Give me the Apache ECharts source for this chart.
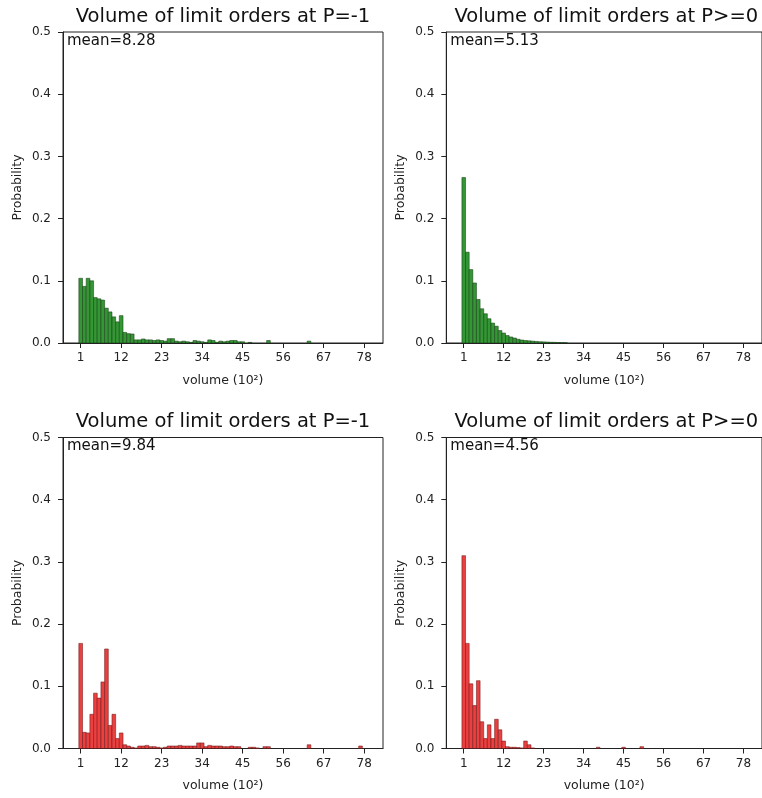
<!DOCTYPE html>
<html>
<head>
<meta charset="utf-8">
<script src="https://cdn.jsdelivr.net/npm/echarts@6/dist/echarts.min.js"></script>
<style>html,body{margin:0;padding:0;background:#fff;}#chart{width:762px;height:798px;}</style>
</head>
<body>
<div id="chart"></div>
<script>
// Tick labels on the volume axis (units of 10^2)
const volumeTicks = [1, 12, 23, 34, 45, 56, 67, 78];
const probTicks = [0, 0.1, 0.2, 0.3, 0.4, 0.5];

const titles = ['Volume of limit orders at P=-1', 'Volume of limit orders at P>=0',
                'Volume of limit orders at P=-1', 'Volume of limit orders at P>=0'];
const means = ['mean=8.28', 'mean=5.13', 'mean=9.84', 'mean=4.56'];

// Probabilities per volume bin, starting at volume 1 (index 0 -> volume 1)
const probTopLeft = [
  0.104, 0.091, 0.104, 0.100, 0.073, 0.071, 0.069, 0.056, 0.050, 0.042,
  0.034, 0.044, 0.017, 0.015, 0.0145, 0.005, 0.005, 0.0065, 0.005, 0.005,
  0.004, 0.005, 0.004, 0.003, 0.007, 0.007, 0.003, 0.002, 0.003, 0.002,
  0.001, 0.004, 0.003, 0.002, 0.001, 0.005, 0.004, 0.001, 0.003, 0.002,
  0.003, 0.004, 0.004, 0.002, 0.002, 0, 0.001, 0, 0, 0,
  0, 0.004, 0, 0, 0, 0, 0, 0, 0, 0,
  0, 0, 0.003, 0, 0, 0, 0, 0, 0, 0,
  0, 0, 0, 0, 0, 0, 0, 0
];
const probTopRight = [
  0.266, 0.146, 0.118, 0.0965, 0.070, 0.055, 0.047, 0.039, 0.032, 0.027,
  0.020, 0.016, 0.012, 0.0097, 0.008, 0.006, 0.0048, 0.004, 0.0035, 0.003,
  0.0025, 0.002, 0.0018, 0.0015, 0.0012, 0.001, 0.0008, 0.0006, 0.0005
];
const probBottomLeft = [
  0.169, 0.026, 0.025, 0.055, 0.089, 0.081, 0.107, 0.160, 0.037, 0.055,
  0.016, 0.025, 0.006, 0.004, 0.002, 0.001, 0.004, 0.004, 0.005, 0.003,
  0.003, 0.002, 0.001, 0.002, 0.004, 0.004, 0.004, 0.005, 0.004, 0.004,
  0.004, 0.004, 0.009, 0.009, 0.003, 0.005, 0.004, 0.004, 0.004, 0.003,
  0.003, 0.004, 0.003, 0.003, 0, 0, 0.002, 0.002, 0.001, 0,
  0.003, 0.003, 0, 0, 0, 0, 0, 0, 0, 0,
  0, 0, 0.006, 0, 0, 0, 0, 0, 0, 0,
  0, 0, 0, 0, 0, 0, 0.004, 0
];
const probBottomRight = [
  0.310, 0.169, 0.104, 0.069, 0.109, 0.043, 0.016, 0.038, 0.016, 0.047,
  0.030, 0.012, 0.003, 0.002, 0.002, 0.0015, 0.001, 0.012, 0.006, 0.001,
  0, 0, 0, 0, 0, 0, 0, 0, 0, 0,
  0, 0, 0, 0, 0, 0, 0, 0.002, 0, 0,
  0, 0, 0, 0, 0.002, 0, 0, 0, 0, 0.003
];

const panels = [
  {probs: probTopLeft, fill: 'rgb(52,150,52)', stroke: 'rgba(20,60,20,0.9)'},
  {probs: probTopRight, fill: 'rgb(52,150,52)', stroke: 'rgba(20,60,20,0.9)'},
  {probs: probBottomLeft, fill: 'rgb(234,64,64)', stroke: 'rgba(110,20,20,0.9)'},
  {probs: probBottomRight, fill: 'rgb(234,64,64)', stroke: 'rgba(110,20,20,0.9)'}
];

const FONT = "'DejaVu Sans', sans-serif";
const gridW = 320, gridH = 311;
const lefts = [63, 446.3, 63, 446.3];
const tops = [32, 32, 437.5, 437.5];

const chart = echarts.init(document.getElementById('chart'), null, {renderer: 'canvas'});

const grids = [], xAxes = [], yAxes = [], series = [], graphics = [];
panels.forEach((p, i) => {
  grids.push({left: lefts[i], top: tops[i], width: gridW, height: gridH,
    show: true, borderColor: '#222', borderWidth: 1, backgroundColor: 'transparent'});
  xAxes.push({
    type: 'value', gridIndex: i, min: -3.8, max: 83.1,
    name: 'volume (10²)', nameLocation: 'middle', nameGap: 31,
    nameTextStyle: {fontFamily: FONT, fontSize: 12.5, color: '#222'},
    axisLine: {show: true, onZero: false, lineStyle: {color: '#222', width: 1}},
    axisTick: {show: true, length: 5, lineStyle: {color: '#222'}, customValues: volumeTicks},
    axisLabel: {fontFamily: FONT, fontSize: 12, color: '#222', margin: 9, customValues: volumeTicks},
    splitLine: {show: false}
  });
  yAxes.push({
    type: 'value', gridIndex: i, min: 0, max: 0.5, interval: 0.1,
    name: 'Probability', nameLocation: 'middle', nameGap: 39, nameRotate: 90,
    nameTextStyle: {fontFamily: FONT, fontSize: 12.5, color: '#222'},
    axisLine: {show: true, onZero: false, lineStyle: {color: '#222', width: 1}},
    axisTick: {show: true, length: 5, lineStyle: {color: '#222'}},
    axisLabel: {fontFamily: FONT, fontSize: 12, color: '#222', margin: 12,
      formatter: v => v.toFixed(1)},
    splitLine: {show: false}
  });
  const data = [];
  p.probs.forEach((v, k) => { if (v > 0) data.push([k + 1, v]); });
  series.push({
    type: 'custom', xAxisIndex: i, yAxisIndex: i, data: data, clip: true,
    renderItem: function (params, api) {
      const x = api.value(0), y = api.value(1);
      const a = api.coord([x - 0.5, y]);
      const b = api.coord([x + 0.5, 0]);
      return {type: 'rect',
        shape: {x: a[0], y: a[1], width: b[0] - a[0], height: b[1] - a[1]},
        style: {fill: p.fill, stroke: p.stroke, lineWidth: 0.6}};
    }
  });
  graphics.push({type: 'text', x: lefts[i] + gridW / 2, y: tops[i] - 15.5,
    style: {text: titles[i], font: "19.5px 'DejaVu Sans', sans-serif", fill: '#111',
      textAlign: 'center', textVerticalAlign: 'middle'}});
  graphics.push({type: 'text', x: lefts[i] + 4, y: tops[i] + 1.5,
    style: {text: means[i], font: "15px 'DejaVu Sans', sans-serif", fill: '#111',
      textAlign: 'left', textVerticalAlign: 'top'}});
});

chart.setOption({
  animation: false,
  backgroundColor: '#fff',
  grid: grids, xAxis: xAxes, yAxis: yAxes, series: series,
  graphic: {elements: graphics}
});
</script>
</body>
</html>
